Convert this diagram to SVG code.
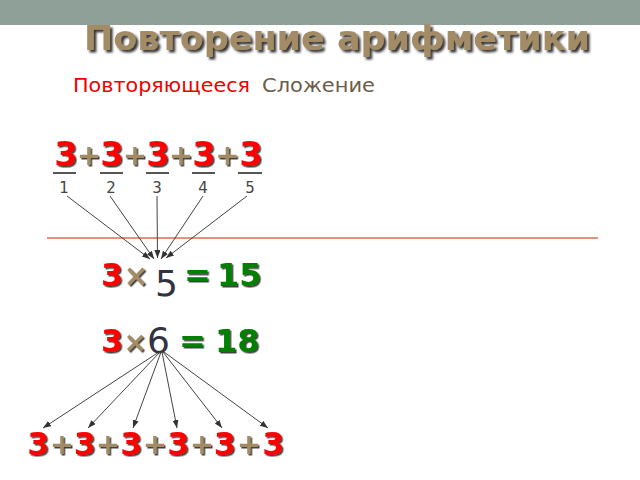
<svg xmlns="http://www.w3.org/2000/svg" width="640" height="480" viewBox="0 0 640 480">
<defs>
<style>
.b{font-family:"DejaVu Sans","Liberation Sans",sans-serif;font-weight:bold}
.r{font-family:"DejaVu Sans","Liberation Sans",sans-serif;font-weight:normal}
.red{fill:#ff0000;font-size:32px}
.tan{fill:#a38b66}
.pl{font-size:29px}
.grn{fill:#008000}
.dk{fill:#33333f}
.num{font-size:15px;fill:#444444}
.ul{stroke:#555555;stroke-width:2}
.con{stroke:#444444;stroke-width:1;fill:none}
</style>
<filter id="sh" x="-30%" y="-20%" width="160%" height="140%">
<feDropShadow dx="1.5" dy="1.5" stdDeviation="0.6" flood-color="#222222" flood-opacity="0.85"/>
</filter>
<filter id="sh2" x="-10%" y="-20%" width="120%" height="150%">
<feDropShadow dx="2.5" dy="2.5" stdDeviation="0.8" flood-color="#1a1a1a" flood-opacity="0.9"/>
</filter>
<marker id="ah" markerUnits="userSpaceOnUse" markerWidth="9" markerHeight="7" refX="8" refY="3" orient="auto">
<path d="M0,0 L8,3 L0,6 z" fill="#333333"/>
</marker>
</defs>
<rect x="0" y="0" width="640" height="480" fill="#ffffff"/>
<rect id="topbar" x="0" y="0" width="640" height="25" fill="#8fa098"/>

<g id="title">
<text class="b tan" x="84" y="50" font-size="33" textLength="506" lengthAdjust="spacingAndGlyphs" filter="url(#sh2)">Повторение арифметики</text>
</g>

<g id="subtitle">
<text class="r" x="73" y="92" font-size="19" fill="#ee0000" textLength="177" lengthAdjust="spacingAndGlyphs">Повторяющееся</text>
<text class="r" x="262" y="92" font-size="19" fill="#6e5d48" textLength="113" lengthAdjust="spacingAndGlyphs">Сложение</text>
</g>

<g id="top-sum" class="b" text-anchor="middle" filter="url(#sh)">
<text class="red" x="66" y="166" style="font-size:34px">3</text>
<text class="tan pl" x="89" y="165">+</text>
<text class="red" x="112" y="166" style="font-size:34px">3</text>
<text class="tan pl" x="135" y="165">+</text>
<text class="red" x="158" y="166" style="font-size:34px">3</text>
<text class="tan pl" x="181" y="165">+</text>
<text class="red" x="204" y="166" style="font-size:34px">3</text>
<text class="tan pl" x="227.5" y="165">+</text>
<text class="red" x="251" y="166" style="font-size:34px">3</text>
</g>

<g id="underlines">
<line class="ul" x1="53" y1="173" x2="76" y2="173"/>
<line class="ul" x1="100" y1="173" x2="123" y2="173"/>
<line class="ul" x1="146" y1="173" x2="169" y2="173"/>
<line class="ul" x1="192" y1="173" x2="215" y2="173"/>
<line class="ul" x1="238" y1="173" x2="262" y2="173"/>
</g>

<g id="counts" class="r num" text-anchor="middle">
<text x="64" y="193">1</text>
<text x="111" y="193">2</text>
<text x="157" y="193">3</text>
<text x="203" y="193">4</text>
<text x="250" y="193">5</text>
</g>

<line id="divider" x1="47" y1="238" x2="598" y2="238" stroke="#e06a55" stroke-width="1.5"/>

<g id="row1">
<g class="b" font-size="32" filter="url(#sh)">
<text class="red" x="101" y="286">3</text>
<text class="tan" x="123.5" y="286" font-size="30">×</text>
<text class="grn" x="184" y="286">=</text>
<text class="grn" x="217" y="286">15</text>
</g>
<text class="r dk" x="155" y="296" font-size="36">5</text>
</g>

<g id="row2">
<g class="b" font-size="32" filter="url(#sh)">
<text class="red" x="101" y="352">3</text>
<text class="tan" x="123.5" y="352" font-size="28">×</text>
<text class="grn" x="179" y="352">=</text>
<text class="grn" x="215" y="352">18</text>
</g>
<text class="r dk" x="147" y="353" font-size="36">6</text>
</g>

<g id="bottom-sum" class="b" text-anchor="middle" filter="url(#sh)">
<text class="red" x="38.5" y="455">3</text>
<text class="tan pl" x="62" y="454">+</text>
<text class="red" x="85" y="455">3</text>
<text class="tan pl" x="108" y="454">+</text>
<text class="red" x="131.5" y="455">3</text>
<text class="tan pl" x="155" y="454">+</text>
<text class="red" x="178.5" y="455">3</text>
<text class="tan pl" x="202" y="454">+</text>
<text class="red" x="225" y="455">3</text>
<text class="tan pl" x="249" y="454">+</text>
<text class="red" x="273.5" y="455">3</text>
</g>

<g id="connectors" class="con">
<line x1="67" y1="196" x2="150" y2="259" marker-end="url(#ah)"/>
<line x1="110" y1="196" x2="154" y2="259" marker-end="url(#ah)"/>
<line x1="157" y1="196" x2="157.5" y2="258" marker-end="url(#ah)"/>
<line x1="203" y1="196" x2="161" y2="259" marker-end="url(#ah)"/>
<line x1="247" y1="196" x2="166" y2="258" marker-end="url(#ah)"/>
<line x1="159" y1="352" x2="43" y2="428" marker-end="url(#ah)"/>
<line x1="160" y1="352" x2="88" y2="428" marker-end="url(#ah)"/>
<line x1="161" y1="352" x2="133" y2="428" marker-end="url(#ah)"/>
<line x1="162" y1="352" x2="177" y2="428" marker-end="url(#ah)"/>
<line x1="163" y1="352" x2="222" y2="428" marker-end="url(#ah)"/>
<line x1="164" y1="352" x2="268" y2="428" marker-end="url(#ah)"/>
</g>
</svg>
